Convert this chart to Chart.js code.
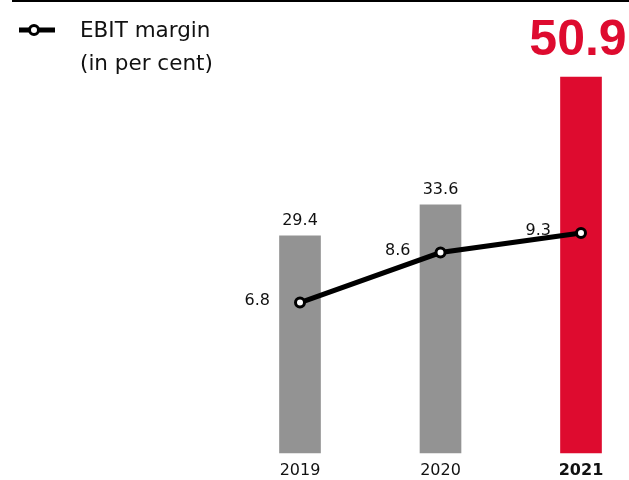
<!DOCTYPE html>
<html>
<head>
<meta charset="utf-8">
<script src="https://cdn.jsdelivr.net/npm/chart.js@4"></script>
<style>
  html, body { margin: 0; padding: 0; background: #fff; }
  #wrap { position: relative; width: 629px; height: 480px; }
</style>
</head>
<body>
<div id="wrap"><canvas id="ebitChart" width="629" height="480"></canvas></div>
<script>
// 年（x軸）
const years = ['2019', '2020', '2021'];
// 棒グラフの値
const barValues = [29.4, 33.6, 50.9];
// EBIT margin（折れ線）
const marginValues = [6.8, 8.6, 9.3];
const lineLabel = 'EBIT margin';
const lineSubLabel = '(in per cent)';

const grey = '#939393';
const red = '#DE0B2F';
const textFont = '"DejaVu Sans", Verdana, sans-serif';
const bigFont = '"Liberation Sans", Arial, sans-serif';

// 上の黒線・凡例・ラベルを描くプラグイン
const decorations = {
    id: 'decorations',
    afterDatasetsDraw(chart) {
        const c = chart.ctx;
        c.save();
        // 上の罫線
        c.fillStyle = '#000';
        c.fillRect(12, 0, 617, 2);

        // 凡例
        c.strokeStyle = '#000';
        c.lineWidth = 5;
        c.beginPath();
        c.moveTo(19, 30);
        c.lineTo(55, 30);
        c.stroke();
        c.beginPath();
        c.arc(34, 30, 4.5, 0, Math.PI * 2);
        c.fillStyle = '#fff';
        c.fill();
        c.lineWidth = 3;
        c.stroke();
        c.fillStyle = '#111';
        c.font = '21.5px ' + textFont;
        c.textAlign = 'left';
        c.textBaseline = 'alphabetic';
        c.fillText(lineLabel, 80, 37);
        c.fillText(lineSubLabel, 80, 70);

        // 棒の値ラベル
        const barMeta = chart.getDatasetMeta(1);
        barMeta.data.forEach((bar, i) => {
            const last = i === barValues.length - 1;
            c.textAlign = 'center';
            c.textBaseline = 'alphabetic';
            if (last) {
                c.fillStyle = red;
                c.font = 'bold 50px ' + bigFont;
                c.fillText(barValues[i].toFixed(1), bar.x - 3, 55);
            } else {
                c.fillStyle = '#111';
                c.font = '16px ' + textFont;
                c.fillText(barValues[i].toFixed(1), bar.x, bar.y - 11);
            }
        });

        // 折れ線の値ラベル
        const lineMeta = chart.getDatasetMeta(0);
        lineMeta.data.forEach((pt, i) => {
            c.fillStyle = '#111';
            c.font = '16px ' + textFont;
            c.textAlign = 'right';
            c.textBaseline = 'middle';
            c.fillText(marginValues[i].toFixed(1), pt.x - 30, pt.y - 2);
        });
        c.restore();
    }
};

new Chart(document.getElementById('ebitChart'), {
    data: {
        labels: years,
        datasets: [{
            type: 'line',
            label: lineLabel,
            data: marginValues,
            yAxisID: 'yLine',
            borderColor: '#000',
            borderWidth: 5,
            pointRadius: 4.5,
            pointBorderWidth: 3,
            pointBackgroundColor: '#fff',
            pointBorderColor: '#000',
            clip: false,
            order: 0
        }, {
            type: 'bar',
            data: barValues,
            yAxisID: 'yBar',
            backgroundColor: years.map((y, i) => i === years.length - 1 ? red : grey),
            barThickness: 41,
            clip: false,
            order: 1
        }]
    },
    options: {
        responsive: false,
        animation: false,
        layout: {
            padding: { left: 300, right: 48, top: 77, bottom: 0 }
        },
        plugins: {
            legend: { display: false },
            tooltip: { enabled: false }
        },
        scales: {
            x: {
                offset: false,
                grid: { display: false },
                border: { display: false },
                ticks: {
                    color: '#111',
                    padding: 0,
                    maxRotation: 0,
                    font: (ctx) => ({
                        family: textFont,
                        size: 16,
                        weight: ctx.index === years.length - 1 ? 'bold' : 'normal'
                    })
                }
            },
            yBar: {
                display: false,
                min: 0,
                max: 50.9
            },
            yLine: {
                display: false,
                min: 1.39,
                max: 14.92
            }
        }
    },
    plugins: [decorations]
});
</script>
</body>
</html>
